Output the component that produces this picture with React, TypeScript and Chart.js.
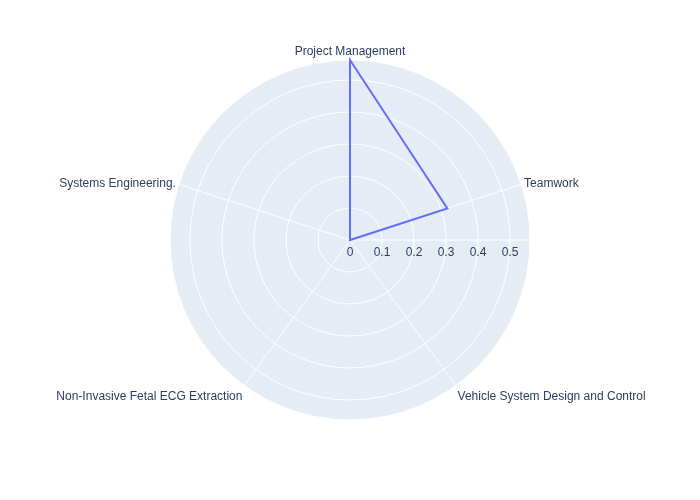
import React, { useEffect, useRef } from "react";
import { Chart, registerables } from "chart.js";

Chart.register(...registerables);

const categories = [
  "Project Management",
  "Teamwork",
  "Vehicle System Design and Control",
  "Non-Invasive Fetal ECG Extraction",
  "Systems Engineering.",
];
const seriesValues = [0.5625, 0.32, 0, 0, 0];
const radialTicks = [0, 0.1, 0.2, 0.3, 0.4, 0.5];
const tickLabels = ["0", "0.1", "0.2", "0.3", "0.4", "0.5"];

const FONT = '12px "Liberation Sans", Arial, sans-serif';
const TEXT = "#2a3f5f";

const polarPlugin = {
  id: "polarExtras",
  beforeDatasetsDraw(chart: any) {
    const s = chart.scales.r;
    const ctx = chart.ctx;
    ctx.save();
    ctx.strokeStyle = "#ffffff";
    ctx.lineWidth = 1;
    ctx.beginPath();
    ctx.moveTo(s.xCenter, s.yCenter);
    ctx.lineTo(s.xCenter + s.drawingArea, s.yCenter);
    ctx.stroke();
    ctx.restore();
  },
  afterDraw(chart: any) {
    const s = chart.scales.r;
    const ctx = chart.ctx;
    ctx.save();
    ctx.font = FONT;
    ctx.fillStyle = TEXT;
    ctx.textAlign = "center";
    ctx.textBaseline = "middle";
    radialTicks.forEach((v, i) => {
      const d = s.getDistanceFromCenterForValue(v);
      ctx.fillText(tickLabels[i], s.xCenter + d, s.yCenter + 13);
    });
    const n = categories.length;
    for (let i = 0; i < n; i++) {
      const p = s.getPointPosition(i, s.drawingArea + 3);
      const ang = p.angle;
      const c = Math.cos(ang);
      const sn = -Math.sin(ang);
      ctx.textAlign = Math.abs(c) < 0.1 ? "center" : c > 0 ? "left" : "right";
      ctx.textBaseline = "middle";
      ctx.fillText(categories[i], p.x, p.y - sn * 7.5 + 2.5);
    }
    ctx.restore();
  },
};

export default function App() {
  const ref = useRef<HTMLCanvasElement>(null);
  useEffect(() => {
    document.body.style.margin = "0";
    const chart = new Chart(ref.current!, {
      type: "radar",
      data: {
        labels: categories,
        datasets: [
          {
            data: seriesValues,
            borderColor: "#636efa",
            borderWidth: 2,
            fill: false,
            pointRadius: 0,
            pointHoverRadius: 0,
            tension: 0,
          },
        ],
      },
      options: {
        responsive: false,
        animation: false,
        layout: { padding: { left: 170, right: 170, top: 60, bottom: 80 } },
        plugins: { legend: { display: false }, tooltip: { enabled: false } },
        scales: {
          r: {
            min: 0,
            max: Math.max(...seriesValues),
            backgroundColor: "#e5ecf6",
            grid: { circular: true, color: "#ffffff", lineWidth: 1 },
            angleLines: { color: "#ffffff", lineWidth: 1 },
            ticks: { display: false, stepSize: 0.1 },
            pointLabels: { display: false },
          },
        },
      },
      plugins: [polarPlugin],
    });
    return () => chart.destroy();
  }, []);
  return (
    <div style={{ width: 700, height: 500, background: "#fff" }}>
      <canvas ref={ref} width={700} height={500} />
    </div>
  );
}
